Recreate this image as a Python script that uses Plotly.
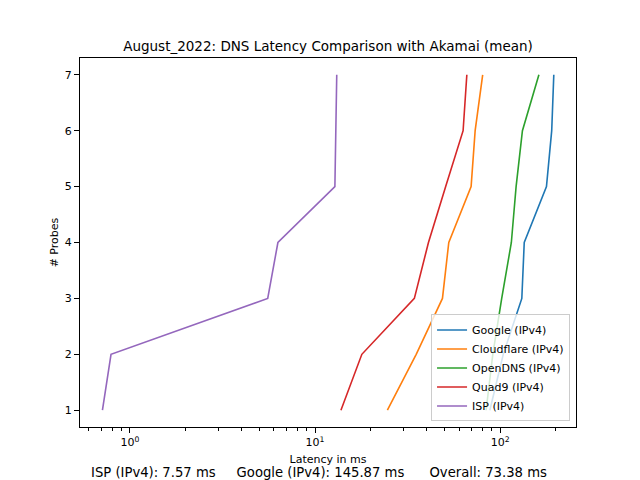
import plotly.graph_objects as go

# number of probes (y axis)
probes = [1, 2, 3, 4, 5, 6, 7]

# mean latency in ms per resolver
google = [88, 104, 131, 135, 178, 190, 195]
cloudflare = [24.6, 35.2, 48.8, 52.8, 69.7, 73.3, 80.5]
opendns = [84, 91.3, 102, 115, 122, 132, 162]
quad9 = [13.8, 17.9, 34.4, 41.0, 50.8, 63.1, 66.1]
isp = [0.71, 0.79, 5.55, 6.3, 12.8, 12.9, 13.1]

series_names = ["Google (IPv4)", "Cloudflare (IPv4)", "OpenDNS (IPv4)", "Quad9 (IPv4)", "ISP (IPv4)"]
series_values = [google, cloudflare, opendns, quad9, isp]
colors = ["#1f77b4", "#ff7f0e", "#2ca02c", "#d62728", "#9467bd"]

major_ticks = [1, 10, 100]
major_labels = ["10<sup>0</sup>", "10<sup>1</sup>", "10<sup>2</sup>"]
minor_ticks = [m * 10 ** e for e in (-1, 0, 1, 2) for m in range(2, 10)]

summary = "ISP (IPv4): 7.57 ms     Google (IPv4): 145.87 ms      Overall: 73.38 ms"

fig = go.Figure()
for name, vals, col in zip(series_names, series_values, colors):
    fig.add_trace(go.Scatter(x=vals, y=probes, mode="lines", name=name,
                             line=dict(color=col, width=1.6)))

font = dict(family="DejaVu Sans", size=11, color="black")

fig.update_layout(
    width=640, height=480,
    margin=dict(l=80, r=64, t=58, b=53),
    paper_bgcolor="white", plot_bgcolor="white",
    font=font,
    title=dict(text="August_2022: DNS Latency Comparison with Akamai (mean)",
               x=0.5, xref="paper", xanchor="center",
               y=1 - 46 / 480, yanchor="middle",
               font=dict(family="DejaVu Sans", size=13.5, color="black")),
    legend=dict(x=0.988, y=0.015, xanchor="right", yanchor="bottom",
                bordercolor="#cccccc", borderwidth=1, bgcolor="rgba(255,255,255,0.8)",
                font=dict(family="DejaVu Sans", size=11, color="black"),
                tracegroupgap=0),
    showlegend=True,
)

fig.update_xaxes(
    type="log", range=[-0.27, 2.41],
    tickvals=major_ticks, ticktext=major_labels,
    ticks="outside", ticklen=5, tickcolor="black",
    minor=dict(tickvals=minor_ticks, ticks="outside", ticklen=3, tickcolor="black"),
    showgrid=False, zeroline=False,
    showline=True, linecolor="black", linewidth=1, mirror=True,
    title=dict(text="Latency in ms", font=dict(size=11), standoff=7),
)
fig.update_yaxes(
    range=[0.7, 7.3], tickvals=probes,
    ticks="outside", ticklen=5, tickcolor="black",
    showgrid=False, zeroline=False,
    showline=True, linecolor="black", linewidth=1, mirror=True,
    title=dict(text="# Probes", font=dict(size=11), standoff=3),
)

fig.add_annotation(text=summary, xref="paper", yref="paper",
                   x=(319 - 80) / 496, y=-(472 - 427) / 369,
                   xanchor="center", yanchor="middle", showarrow=False,
                   font=dict(family="DejaVu Sans", size=13.2, color="black"))

# drop the default page margin so the figure sits at the window corner
fig.write_html("out.html", config={"displayModeBar": False},
               post_script="document.body.style.margin='0';")
